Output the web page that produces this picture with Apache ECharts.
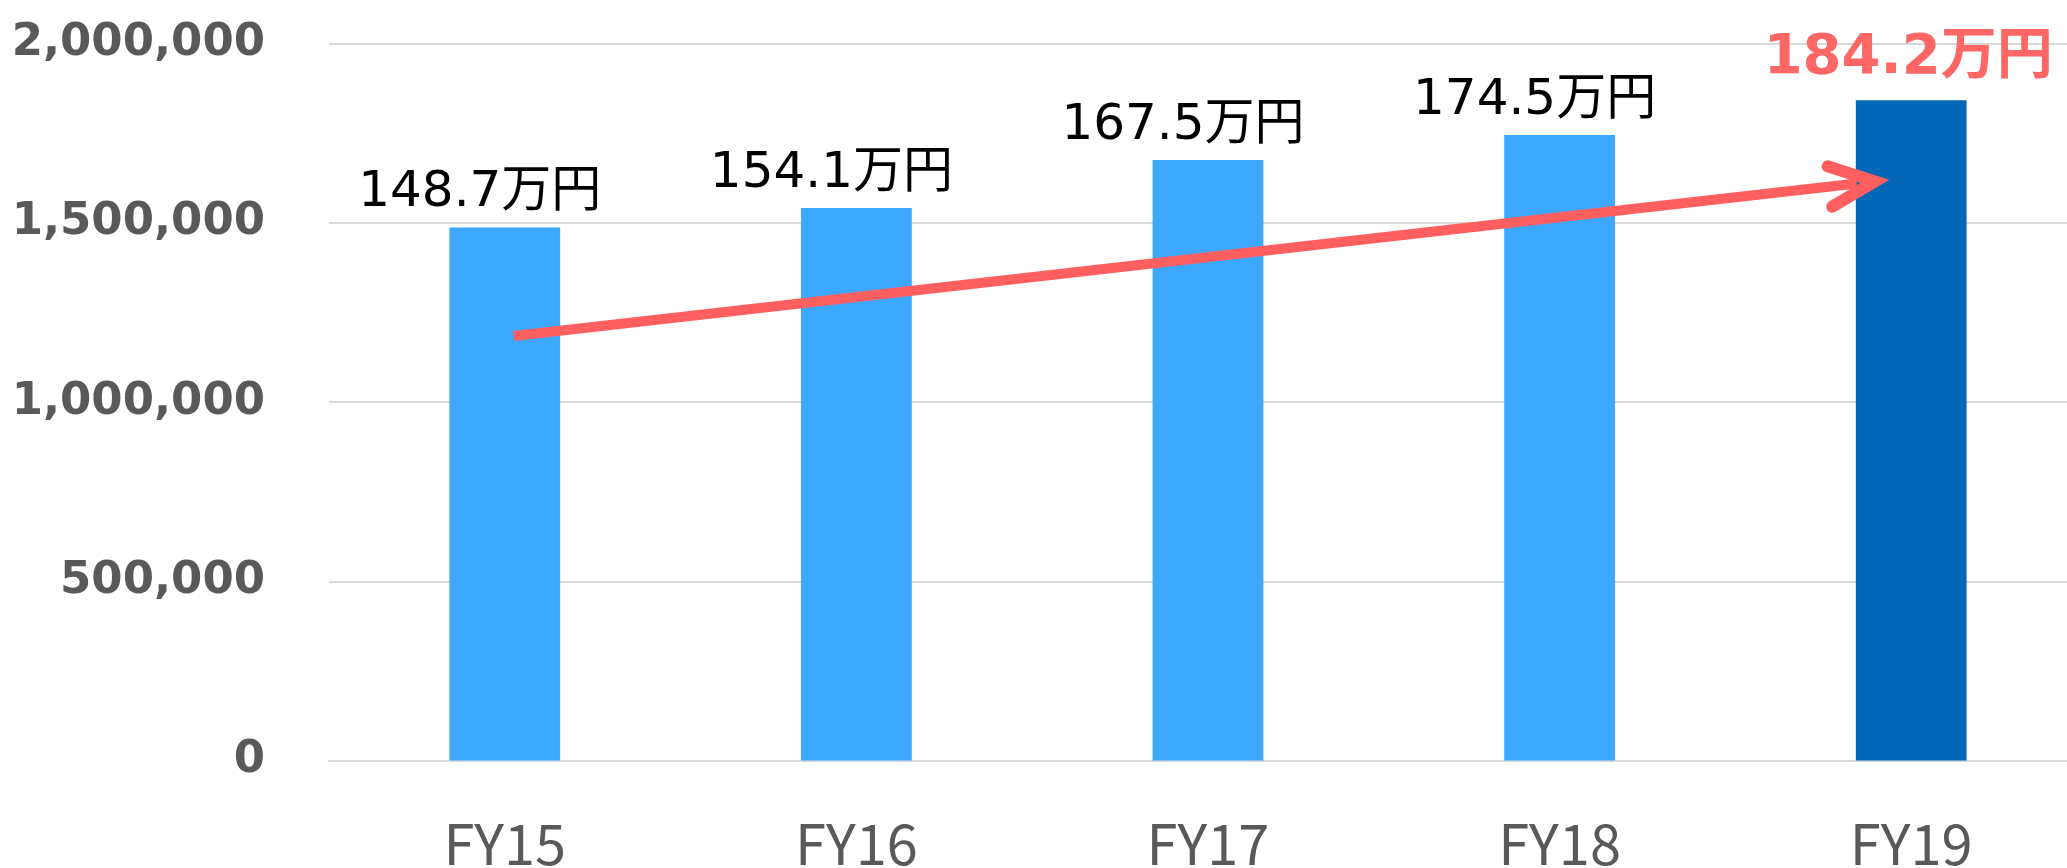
<!DOCTYPE html>
<html><head><meta charset="utf-8">
<script src="https://cdn.jsdelivr.net/npm/echarts@6/dist/echarts.min.js"></script>
<style>html,body{margin:0;padding:0;background:#fff}#c{width:2067px;height:868px}</style>
</head><body><div id="c"></div>
<script>
const categories = ['FY15','FY16','FY17','FY18','FY19'];
const values = [1487000, 1541000, 1675000, 1745000, 1842000];
const labels = ['148.7万円','154.1万円','167.5万円','174.5万円','184.2万円'];
const yTicks = [0, 500000, 1000000, 1500000, 2000000];
const arrowStart = [0.025, 1184000];
const arrowEnd = [3.845, 1609500];

const chart = echarts.init(document.getElementById('c'), null, {renderer:'canvas'});
const last = values.length - 1;
chart.setOption({
  animation:false,
  grid:{left:329, width:1758, top:43.5, height:717, containLabel:false, outerBoundsMode:'none'},
  xAxis:[{
    type:'category', data:categories,
    axisLine:{show:true, lineStyle:{color:'#D9D9D9', width:2}},
    axisTick:{show:false},
    axisLabel:{color:'#595959', fontSize:56, fontFamily:'Noto Sans CJK JP', margin:55}
  },{
    type:'value', min:-0.5, max:4.5, show:false
  }],
  yAxis:{
    type:'value', min:yTicks[0], max:yTicks[yTicks.length-1], interval:yTicks[1]-yTicks[0],
    axisLine:{show:false}, axisTick:{show:false},
    splitLine:{lineStyle:{color:'#D9D9D9', width:2}},
    axisLabel:{color:'#595959', fontSize:45, fontWeight:'bold', fontFamily:'DejaVu Sans', margin:64,
      formatter:v=>v.toLocaleString('en-US')}
  },
  series:[{
    type:'bar', barWidth:'31.5%',
    data: values.map((v,i)=>({
      value:v,
      itemStyle:{color: i===last ? '#0068B7' : '#3CA8FF'},
      label:{
        show:true, position:'top', distance: i===last ? 14 : 9,
        offset: i===last ? [-3,0] : [-25,0],
        formatter: labels[i],
        fontFamily:'DejaVu Sans, "Noto Sans CJK JP"',
        fontSize: i===last ? 56 : 50,
        fontWeight: i===last ? 'bold' : 'normal',
        color: i===last ? '#FF6666' : '#000000'
      }
    }))
  },{
    type:'line', xAxisIndex:1, data:[], silent:true,
    markLine:{
      silent:true,
      symbol:['none','path://M25.78,0 L51.56,58 A6,6 0 0 1 40.6,62.88 L25.78,29.48 L10.96,62.88 A6,6 0 0 1 0,58 Z'],
      symbolSize:[52.6,65.9],
      label:{show:false},
      lineStyle:{color:'#FF5F5F', width:10, type:'solid', cap:'butt'},
      data:[[{coord:arrowStart},{coord:arrowEnd}]]
    }
  }]
});
</script></body></html>
